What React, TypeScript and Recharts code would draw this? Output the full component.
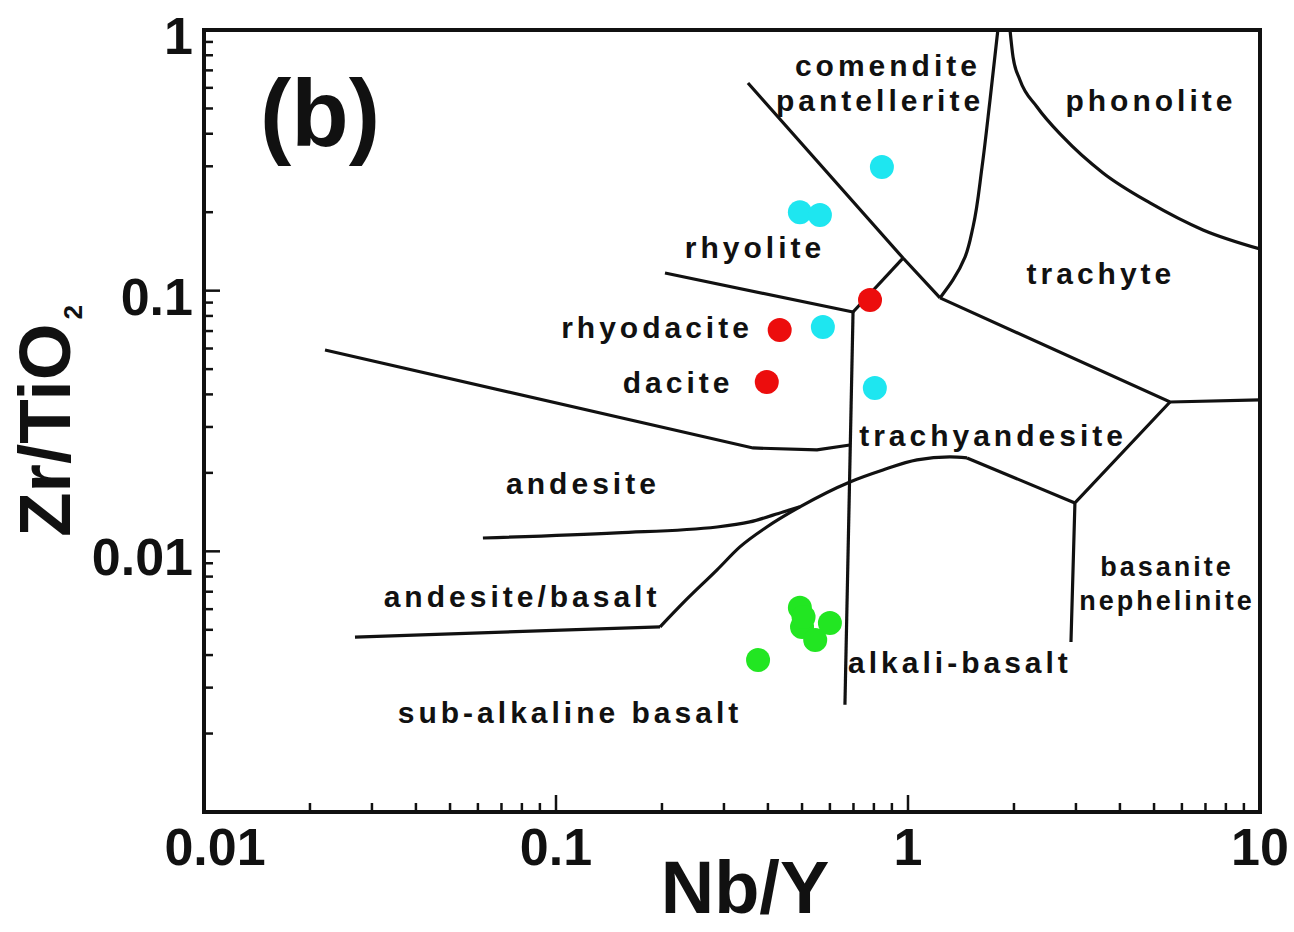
import React from 'react';
import {
  ComposedChart,
  Scatter,
  XAxis,
  YAxis,
  ReferenceArea,
  ReferenceDot,
} from 'recharts';

// Nb/Y vs Zr/TiO2 classification (Winchester & Floyd), log-log
const xTicks = [
  0.01, 0.02, 0.03, 0.04, 0.05, 0.06, 0.07, 0.08, 0.09,
  0.1, 0.2, 0.3, 0.4, 0.5, 0.6, 0.7, 0.8, 0.9,
  1, 2, 3, 4, 5, 6, 7, 8, 9, 10,
];
const yTicks = [
  0.001, 0.002, 0.003, 0.004, 0.005, 0.006, 0.007, 0.008, 0.009,
  0.01, 0.02, 0.03, 0.04, 0.05, 0.06, 0.07, 0.08, 0.09,
  0.1, 0.2, 0.3, 0.4, 0.5, 0.6, 0.7, 0.8, 0.9, 1,
];
const xLabelled = [0.01, 0.1, 1, 10];
const yLabelled = [0.01, 0.1, 1];

// samples
const cyanPoints = [
  { x: 0.843, y: 0.298 },
  { x: 0.493, y: 0.2 },
  { x: 0.562, y: 0.195 },
  { x: 0.573, y: 0.0726 },
  { x: 0.805, y: 0.0423 },
];
const redPoints = [
  { x: 0.78, y: 0.0921 },
  { x: 0.432, y: 0.0707 },
  { x: 0.397, y: 0.0446 },
];
const greenPoints = [
  { x: 0.375, y: 0.00383 },
  { x: 0.493, y: 0.00607 },
  { x: 0.5, y: 0.00513 },
  { x: 0.505, y: 0.0056 },
  { x: 0.545, y: 0.00457 },
  { x: 0.6, y: 0.00531 },
];

// field boundaries
const comenditeLower = [
  { x: 0.351, y: 0.626 },
  { x: 0.968, y: 0.1334 },
  { x: 1.233, y: 0.0938 },
];
const rhyoliteSpur = [
  { x: 0.968, y: 0.1334 },
  { x: 0.698, y: 0.0828 },
];
const rhyoliteLower = [
  { x: 0.204, y: 0.1169 },
  { x: 0.698, y: 0.0828 },
];
const subalkalineDivide = [
  { x: 0.698, y: 0.0828 },
  { x: 0.662, y: 0.00258 },
];
const comenditeTrachyte = [
  { x: 1.8, y: 1 },
  { x: 1.71, y: 0.539 },
  { x: 1.623, y: 0.298 },
  { x: 1.53, y: 0.1755 },
  { x: 1.452, y: 0.1346 },
  { x: 1.342, y: 0.1099 },
  { x: 1.233, y: 0.0938 },
];
const phonoliteLower = [
  { x: 1.949, y: 1 },
  { x: 1.988, y: 0.788 },
  { x: 2.08, y: 0.643 },
  { x: 2.326, y: 0.5066 },
  { x: 2.756, y: 0.3887 },
  { x: 3.581, y: 0.2828 },
  { x: 4.87, y: 0.217 },
  { x: 6.887, y: 0.171 },
  { x: 10, y: 0.1445 },
];
const trachyteLower = [
  { x: 1.233, y: 0.0938 },
  { x: 5.55, y: 0.0374 },
  { x: 10, y: 0.0381 },
];
const basaniteUpper = [
  { x: 5.55, y: 0.0374 },
  { x: 2.98, y: 0.01533 },
  { x: 2.904, y: 0.00449 },
];
const alkaliBasaltUpper = [
  { x: 2.98, y: 0.01533 },
  { x: 1.471, y: 0.02282 },
];
const basaltCurve = [
  { x: 1.471, y: 0.02282 },
  { x: 1.316, y: 0.02302 },
  { x: 1.061, y: 0.02242 },
  { x: 0.849, y: 0.02052 },
  { x: 0.684, y: 0.01846 },
  { x: 0.493, y: 0.01481 },
  { x: 0.397, y: 0.0124 },
  { x: 0.333, y: 0.0104 },
  { x: 0.2868, y: 0.00849 },
  { x: 0.2296, y: 0.00634 },
  { x: 0.1975, y: 0.00513 },
];
const basaltLower = [
  { x: 0.1975, y: 0.00513 },
  { x: 0.02685, y: 0.00469 },
];
const andesiteLower = [
  { x: 0.062, y: 0.01125 },
  { x: 0.149, y: 0.01177 },
  { x: 0.2868, y: 0.0124 },
  { x: 0.3555, y: 0.01297 },
  { x: 0.4416, y: 0.01416 },
  { x: 0.493, y: 0.01481 },
];
const daciteLower = [
  { x: 0.02207, y: 0.0592 },
  { x: 0.3628, y: 0.02492 },
  { x: 0.5514, y: 0.02449 },
  { x: 0.684, y: 0.02559 },
];

const boundaries = [
  { data: comenditeLower, curve: 'linear' },
  { data: rhyoliteSpur, curve: 'linear' },
  { data: rhyoliteLower, curve: 'linear' },
  { data: subalkalineDivide, curve: 'linear' },
  { data: comenditeTrachyte, curve: 'monotoneY' },
  { data: phonoliteLower, curve: 'monotoneX' },
  { data: trachyteLower, curve: 'linear' },
  { data: basaniteUpper, curve: 'linear' },
  { data: alkaliBasaltUpper, curve: 'linear' },
  { data: basaltCurve, curve: 'monotoneX' },
  { data: basaltLower, curve: 'linear' },
  { data: andesiteLower, curve: 'monotoneX' },
  { data: daciteLower, curve: 'linear' },
];

const fieldLabels = [
  { text: 'comendite', x: 0.877, y: 0.734 },
  { text: 'pantellerite', x: 0.833, y: 0.539 },
  { text: 'phonolite', x: 4.9, y: 0.539 },
  { text: 'rhyolite', x: 0.3675, y: 0.147 },
  { text: 'trachyte', x: 3.532, y: 0.1169 },
  { text: 'rhyodacite', x: 0.1936, y: 0.0726 },
  { text: 'dacite', x: 0.2222, y: 0.0446 },
  { text: 'trachyandesite', x: 1.744, y: 0.02796 },
  { text: 'andesite', x: 0.1193, y: 0.0183 },
  { text: 'andesite/basalt', x: 0.0801, y: 0.00674 },
  { text: 'alkali-basalt', x: 1.405, y: 0.00376 },
  { text: 'sub-alkaline basalt', x: 0.1096, y: 0.00242 },
];
const smallLabels = [
  { text: 'basanite', x: 5.44, y: 0.00879 },
  { text: 'nephelinite', x: 5.44, y: 0.00651 },
];

const FONT = "'Liberation Sans', Arial, sans-serif";
const INK = '#111';

const isDecade = (v: number) => Math.abs(Math.log10(v) - Math.round(Math.log10(v))) < 1e-6;

const XTick = (props: any) => {
  const { x, y, payload } = props;
  const v = payload.value;
  const major = isDecade(v);
  // the leftmost label sits a little inside the frame
  const shift = Math.abs(v - 0.01) < 1e-9 ? 11 : 0;
  return (
    <g>
      <line x1={x} y1={y} x2={x} y2={y - (major ? 17 : 9)} stroke={INK} strokeWidth={2.5} />
      {xLabelled.some((t) => Math.abs(t - v) < 1e-9) && (
        <text x={x + shift} y={y + 53} textAnchor="middle" fontFamily={FONT} fontWeight="bold" fontSize={52} fill={INK}>
          {String(v)}
        </text>
      )}
    </g>
  );
};

const YTick = (props: any) => {
  const { x, y, payload } = props;
  const v = payload.value;
  const major = isDecade(v);
  return (
    <g>
      <line x1={x} y1={y} x2={x + (major ? 16 : 9)} y2={y} stroke={INK} strokeWidth={2.5} />
      {yLabelled.some((t) => Math.abs(t - v) < 1e-9) && (
        <text x={x - 11} y={y + 24} textAnchor="end" fontFamily={FONT} fontWeight="bold" fontSize={52} fill={INK}>
          {String(v)}
        </text>
      )}
    </g>
  );
};

const dot = (color: string) => (p: any) => <circle cx={p.cx} cy={p.cy} r={12} fill={color} />;
const noDot = () => <g />;

const App: React.FC = () => {
  return (
    <div style={{ position: 'absolute', left: 0, top: 0, width: 1294, height: 932, background: '#fff' }}>
      <ComposedChart width={1294} height={932} margin={{ top: 30, right: 34, left: 0, bottom: 0 }}>
        <XAxis
          dataKey="x"
          type="number"
          scale="log"
          domain={[0.01, 10]}
          allowDataOverflow
          ticks={xTicks}
          interval={0}
          tick={XTick}
          tickLine={false}
          tickSize={0}
          tickMargin={0}
          height={120}
          axisLine={{ stroke: INK, strokeWidth: 4 }}
          label={{
            content: () => (
              <text x={745} y={913} textAnchor="middle" fontFamily={FONT} fontWeight="bold" fontSize={74} fill={INK}>
                Nb/Y
              </text>
            ),
          }}
        />
        <YAxis
          dataKey="y"
          type="number"
          scale="log"
          domain={[0.001, 1]}
          allowDataOverflow
          ticks={yTicks}
          interval={0}
          tick={YTick}
          tickLine={false}
          tickSize={0}
          tickMargin={0}
          width={204}
          axisLine={{ stroke: INK, strokeWidth: 4 }}
          label={{
            content: () => (
              <text
                transform="translate(70, 421) rotate(-90)"
                textAnchor="middle"
                fontFamily={FONT}
                fontWeight="bold"
                fontSize={73}
                fill={INK}
              >
                Zr/TiO
                <tspan fontSize={26} dx={4} dy={12}>2</tspan>
              </text>
            ),
          }}
        />
        <ReferenceArea x1={0.01} x2={10} y1={0.001} y2={1} fill="none" stroke={INK} strokeWidth={4} />

        {boundaries.map((b, i) => (
          <Scatter
            key={`b${i}`}
            data={b.data}
            line={{ stroke: INK, strokeWidth: 3.2 }}
            lineType="joint"
            lineJointType={b.curve as any}
            shape={noDot}
            legendType="none"
            isAnimationActive={false}
          />
        ))}

        <Scatter data={cyanPoints} fill="#1ee6f0" shape={dot('#1ee6f0')} isAnimationActive={false} />
        <Scatter data={redPoints} fill="#ec0d0d" shape={dot('#ec0d0d')} isAnimationActive={false} />
        <Scatter data={greenPoints} fill="#22e622" shape={dot('#22e622')} isAnimationActive={false} />

        {fieldLabels.map((l) => (
          <ReferenceDot
            key={l.text}
            x={l.x}
            y={l.y}
            r={0}
            shape={(p: any) => (
              <text
                x={p.cx}
                y={p.cy}
                dy="0.36em"
                textAnchor="middle"
                fontFamily={FONT}
                fontWeight="bold"
                fontSize={30}
                letterSpacing={4}
                fill={INK}
              >
                {l.text}
              </text>
            )}
          />
        ))}
        {smallLabels.map((l) => (
          <ReferenceDot
            key={l.text}
            x={l.x}
            y={l.y}
            r={0}
            shape={(p: any) => (
              <text
                x={p.cx}
                y={p.cy}
                dy="0.36em"
                textAnchor="middle"
                fontFamily={FONT}
                fontWeight="bold"
                fontSize={27}
                letterSpacing={3}
                fill={INK}
              >
                {l.text}
              </text>
            )}
          />
        ))}
        <ReferenceDot
          x={0.02136}
          y={0.472}
          r={0}
          shape={(p: any) => (
            <text x={p.cx} y={p.cy} dy="0.33em" textAnchor="middle" fontFamily={FONT} fontWeight="bold" fontSize={94} fill={INK}>
              (b)
            </text>
          )}
        />
      </ComposedChart>
    </div>
  );
};

export default App;
